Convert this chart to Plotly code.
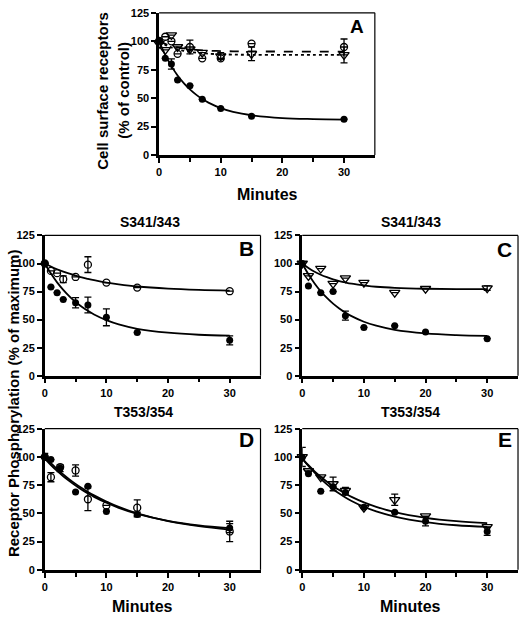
import plotly.graph_objects as go

FONT = "Liberation Sans, Arial, sans-serif"

# ---------------- data ----------------
# Panel A: cell surface receptors
a_x = [0, 1, 2, 3, 5, 7, 10, 15, 30]
a_filled = [101, 85, 80, 66, 61, 49, 41, 34, 31.5]
a_filled_err = [None, None, 4.5, None, None, None, None, None, None]
a_open = [100, 104, 100, 89, 95, 85, 85, 98, 95]
a_open_err = [None, None, None, None, 6, None, None, None, 7]
a_tri = [98, 92.5, 105.5, 95, 93, 90, 87, 89, 88]
a_tri_err = [None, None, None, None, None, None, 3, 6, 7]

fit_x = [0, 1, 2, 3, 4, 5, 6, 7, 8, 10, 12, 15, 20, 25, 30]
a_fit_filled = [100, 88.1, 78.2, 70.0, 63.3, 57.7, 53.1, 49.2, 46.1, 41.3, 38.0, 35.0, 32.5, 31.6, 31.2]
a_fit_open = [100, 97.7, 95.9, 94.7, 93.7, 93.0, 92.5, 92.1, 91.8, 91.4, 91.2, 91.1, 91.0, 91.0, 91.0]
a_fit_tri = [100, 96.9, 94.6, 92.9, 91.6, 90.7, 90.0, 89.5, 89.1, 88.6, 88.3, 88.1, 88.0, 88.0, 88.0]

# Panel B: S341/343
b_x = [0, 1, 2, 3, 5, 7, 10, 15, 30]
b_filled = [100, 79, 74, 68, 65, 63, 52, 38.5, 31.5]
b_filled_err = [None, None, None, None, 4.5, 7, 7.5, None, 4]
b_open = [100, 93.4, 91.4, 86, 88, 99, 83, 78.5, 75.3]
b_open_err = [None, None, None, 3, None, 7, None, None, None]
b_fit_filled = [100, 91.0, 83.2, 76.5, 70.7, 65.7, 61.5, 57.8, 54.6, 49.5, 45.7, 41.8, 38.3, 36.5, 35.7]
b_fit_open = [100, 97.3, 94.9, 92.8, 90.9, 89.2, 87.6, 86.3, 85.1, 83.0, 81.4, 79.5, 77.6, 76.5, 75.8]

# Panel C: S341/343
c_x = [0, 1, 3, 5, 7, 10, 15, 20, 30]
c_filled = [100, 80, 74, 75, 53.5, 43, 44.5, 39, 33]
c_filled_err = [None, None, None, None, 4, None, None, None, None]
c_tri = [100, 89, 95.5, 82, 87, 83, 74, 77.5, 78]
c_tri_err = [None, None, None, None, None, None, None, None, 2]
c_fit_filled = [100, 90.4, 82.2, 75.2, 69.3, 64.2, 59.9, 56.2, 53.1, 48.1, 44.6, 40.9, 37.7, 36.2, 35.5]
c_fit_tri = [100, 96.0, 92.7, 90.0, 87.8, 85.9, 84.4, 83.1, 82.0, 80.5, 79.3, 78.3, 77.5, 77.2, 77.1]

# Panel D: T353/354
d_x = [0, 1, 2.5, 5, 7, 10, 15, 30]
d_filled = [100, 97.6, 90, 69, 74, 51.7, 49, 37]
d_filled_err = [None, None, 3, None, None, None, 2, 4]
d_open = [100, 82, 91, 88, 62.5, 57, 55, 34]
d_open_err = [3, 4, None, 5, 10, None, 7, 9]
d_fit_filled = [100, 94.4, 89.2, 84.5, 80.1, 76.1, 72.4, 69.0, 65.9, 60.4, 55.7, 50.0, 43.2, 38.7, 35.7]
d_fit_open = [98.5, 92.8, 87.6, 82.9, 78.6, 74.6, 71.0, 67.7, 64.6, 59.4, 54.9, 49.6, 43.4, 39.4, 36.9]

# Panel E: T353/354
e_x = [0, 1, 3, 5, 7, 10, 15, 20, 30]
e_filled = [99.6, 85, 69.5, 73.5, 68.5, 55.5, 51, 43, 34]
e_filled_err = [None, None, None, None, None, None, None, 4, 3.5]
e_tri = [100, 87.5, 82, 76, 70, 55, 62, 47.5, 38]
e_tri_err = [8.5, None, None, 6, 3, None, 5, None, None]
e_fit_filled = [98.5, 92.0, 86.0, 80.5, 75.7, 71.4, 67.5, 64.0, 61.0, 55.8, 51.8, 47.2, 42.3, 39.5, 38.0]
e_fit_tri = [98.5, 92.6, 87.2, 82.4, 78.0, 74.1, 70.6, 67.4, 64.6, 59.7, 55.8, 51.1, 46.1, 43.1, 41.4]

x_ticks = [0, 10, 20, 30]
y_ticks = [0, 25, 50, 75, 100, 125]

# ---------------- figure ----------------
W, H = 520, 619
fig = go.Figure()

def fx(px):
    return px / W

def fy(py):
    return 1 - py / H

panels = {
    # name: (x0px, x1px, y_top_px, y_bot_px)
    "A": (157, 374, 7, 152),
    "B": (42, 259, 234, 377),
    "C": (301, 518, 234, 377),
    "D": (42, 259, 431, 575),
    "E": (301, 518, 431, 575),
}
axis_ids = {"A": "", "B": "2", "C": "3", "D": "4", "E": "5"}

def add_fit(panel, y, dash="solid"):
    n = axis_ids[panel]
    fig.add_trace(go.Scatter(
        x=fit_x, y=y, mode="lines", line=dict(color="black", width=1.8, dash=dash, shape="spline", smoothing=1.0),
        xaxis="x" + n, yaxis="y" + n, showlegend=False, hoverinfo="skip"))

def add_pts(panel, x, y, err, kind):
    n = axis_ids[panel]
    if kind == "filled":
        marker = dict(symbol="circle", size=7, color="black", line=dict(color="black", width=0))
    elif kind == "open":
        marker = dict(symbol="circle-open", size=7, color="black", line=dict(color="black", width=1.3))
    else:
        marker = dict(symbol="triangle-down-open", size=9, color="black", line=dict(color="black", width=1.3))
    fig.add_trace(go.Scatter(
        x=x, y=y, mode="markers", marker=marker, cliponaxis=False,
        error_y=dict(type="data", array=err, symmetric=True, color="black", thickness=1.3, width=3.5),
        xaxis="x" + n, yaxis="y" + n, showlegend=False))

# A
add_fit("A", a_fit_filled, "solid")
add_fit("A", a_fit_open, "dash")
add_fit("A", a_fit_tri, "dot")
add_pts("A", a_x, a_open, a_open_err, "open")
add_pts("A", a_x, a_tri, a_tri_err, "tri")
add_pts("A", a_x, a_filled, a_filled_err, "filled")
# B
add_fit("B", b_fit_filled)
add_fit("B", b_fit_open)
add_pts("B", b_x, b_open, b_open_err, "open")
add_pts("B", b_x, b_filled, b_filled_err, "filled")
# C
add_fit("C", c_fit_filled)
add_fit("C", c_fit_tri)
add_pts("C", c_x, c_tri, c_tri_err, "tri")
add_pts("C", c_x, c_filled, c_filled_err, "filled")
# D
add_fit("D", d_fit_filled)
add_fit("D", d_fit_open)
add_pts("D", d_x, d_open, d_open_err, "open")
add_pts("D", d_x, d_filled, d_filled_err, "filled")
# E
add_fit("E", e_fit_filled)
add_fit("E", e_fit_tri)
add_pts("E", e_x, e_tri, e_tri_err, "tri")
add_pts("E", e_x, e_filled, e_filled_err, "filled")

tickfont = dict(family=FONT, size=11, color="black", weight="bold")
layout = dict(
    width=W, height=H, margin=dict(l=0, r=0, t=0, b=0),
    paper_bgcolor="white", plot_bgcolor="white",
    font=dict(family=FONT, color="black"),
    showlegend=False,
)
shapes = []
for name, (x0, x1, yt, yb) in panels.items():
    n = axis_ids[name]
    xa = dict(domain=[fx(x0), fx(x1)], range=[0, 35], anchor="y" + n,
              tickvals=x_ticks, ticks="outside", ticklen=5, tickwidth=2, tickcolor="black",
              showline=True, linecolor="black", linewidth=2.5, showgrid=False, zeroline=False,
              tickfont=tickfont,
              minor=dict(tickvals=[5, 15, 25], ticks="outside", ticklen=4, tickwidth=1.5, tickcolor="black", showgrid=False))
    ya = dict(domain=[fy(yb), fy(yt)], range=[0, 125], anchor="x" + n,
              tickvals=y_ticks, ticks="outside", ticklen=5, tickwidth=2, tickcolor="black",
              showline=True, linecolor="black", linewidth=2.5, showgrid=False, zeroline=False,
              tickfont=tickfont)
    layout["xaxis" + n] = xa
    layout["yaxis" + n] = ya
    xref = "x" + n + " domain"
    yref = "y" + n + " domain"
    shapes.append(dict(type="line", xref=xref, yref=yref, x0=0, x1=1, y0=1, y1=1, line=dict(color="black", width=1.2)))
    shapes.append(dict(type="line", xref=xref, yref=yref, x0=1, x1=1, y0=0, y1=1, line=dict(color="black", width=1.2)))
layout["shapes"] = shapes

def ann(text, xpx, ypx, size, angle=0):
    return dict(text=text, x=fx(xpx), y=fy(ypx), xref="paper", yref="paper",
                xanchor="center", yanchor="middle", showarrow=False, textangle=angle,
                font=dict(family=FONT, size=size, color="black", weight="bold"))

annotations = [
    ann("A", 356, 21, 19),
    ann("B", 245, 247, 21),
    ann("C", 504, 248, 21),
    ann("D", 245, 442, 21),
    ann("E", 505, 442, 21),
    ann("S341/343", 148, 220, 14),
    ann("S341/343", 410, 220, 14),
    ann("T353/354", 141, 414, 14),
    ann("T353/354", 410, 414, 14),
    ann("Minutes", 266, 192, 16),
    ann("Minutes", 140, 612, 16),
    ann("Minutes", 410, 612, 16),
    ann("Cell surface receptors", 100, 86, 15, -90),
    ann("(% of control)", 121, 86, 15, -90),
    ann("Receptor Phosphorylation (% of maximum)", 10, 405, 15, -90),
]
layout["annotations"] = annotations

fig.update_layout(**layout)
fig.write_html("out.html", config={"displayModeBar": False},
               post_script="document.body.style.margin='0px';document.body.style.overflow='hidden';")
